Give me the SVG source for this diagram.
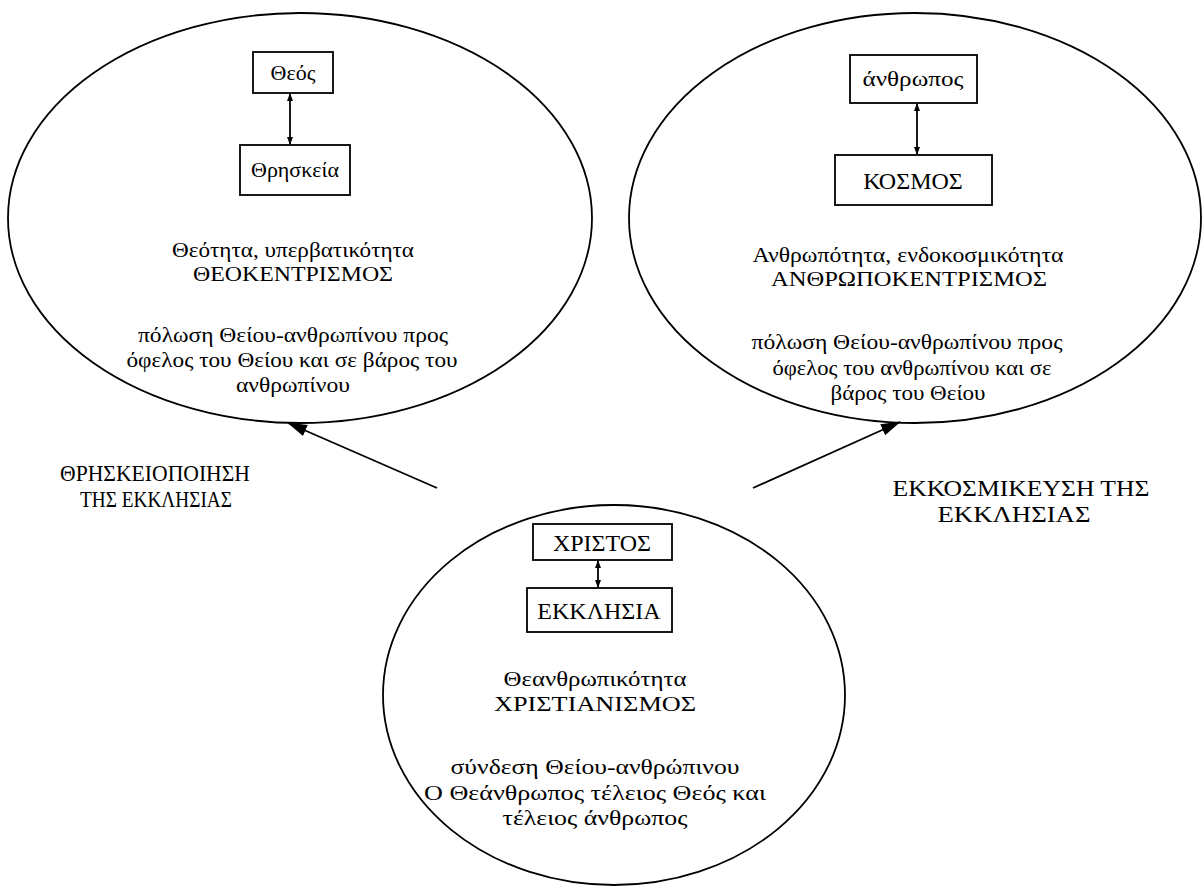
<svg xmlns="http://www.w3.org/2000/svg" width="1204" height="895" viewBox="0 0 1204 895">
<style>
.e{fill:none;stroke:#000;stroke-width:1.8}
.b{fill:#fff;stroke:#000;stroke-width:1.8}
.u{font-family:"Liberation Serif","Times New Roman",serif;font-size:22px;fill:#000;text-anchor:middle}
.k{font-family:"Liberation Serif","Times New Roman",serif;font-size:24px;fill:#000;text-anchor:middle}
.c{stroke:#000;stroke-width:1.8;fill:none}
.l{font-family:"Liberation Serif","Times New Roman",serif;font-size:24px;fill:#000;text-anchor:middle}
</style>
<defs>
<marker id="as" markerWidth="8" markerHeight="8" refX="7" refY="4" orient="auto-start-reverse" markerUnits="userSpaceOnUse" viewBox="0 0 8 8"><path d="M0,1 L8,4 L0,7 z" fill="#000"/></marker>
<marker id="big" markerWidth="20" markerHeight="14" refX="19" refY="7" orient="auto" markerUnits="userSpaceOnUse" viewBox="0 0 20 14"><path d="M0,1 L20,7 L0,13 z" fill="#000"/></marker>
</defs>
<g id="left">
<ellipse class="e" cx="300" cy="218" rx="292" ry="205"/>
<rect class="b" x="253" y="52" width="80" height="41"/>
<text class="u" x="293" y="80">Θεός</text>
<rect class="b" x="240" y="145" width="110" height="50"/>
<text class="u" x="295" y="177">Θρησκεία</text>
<text class="u" x="293" y="257" textLength="242" lengthAdjust="spacingAndGlyphs">Θεότητα, υπερβατικότητα</text>
<text class="u" x="293" y="281" textLength="200" lengthAdjust="spacingAndGlyphs">ΘΕΟΚΕΝΤΡΙΣΜΟΣ</text>
<text class="u" x="293" y="342" textLength="310" lengthAdjust="spacingAndGlyphs">πόλωση Θείου-ανθρωπίνου προς</text>
<text class="u" x="292" y="367" textLength="331" lengthAdjust="spacingAndGlyphs">όφελος του Θείου και σε βάρος του</text>
<text class="u" x="293" y="392" textLength="114" lengthAdjust="spacingAndGlyphs">ανθρωπίνου</text>
</g>
<g id="right">
<ellipse class="e" cx="915" cy="218" rx="286" ry="205"/>
<rect class="b" x="850" y="55" width="127" height="48"/>
<text class="u" x="913" y="86" textLength="101" lengthAdjust="spacingAndGlyphs">άνθρωπος</text>
<rect class="b" x="835" y="155" width="157" height="50"/>
<text class="k" x="913" y="189">ΚΟΣΜΟΣ</text>
<text class="u" x="908" y="262" textLength="311" lengthAdjust="spacingAndGlyphs">Ανθρωπότητα, ενδοκοσμικότητα</text>
<text class="u" x="909" y="286" textLength="276" lengthAdjust="spacingAndGlyphs">ΑΝΘΡΩΠΟΚΕΝΤΡΙΣΜΟΣ</text>
<text class="u" x="907" y="349" textLength="311" lengthAdjust="spacingAndGlyphs">πόλωση Θείου-ανθρωπίνου προς</text>
<text class="u" x="912" y="375" textLength="279" lengthAdjust="spacingAndGlyphs">όφελος του ανθρωπίνου και σε</text>
<text class="u" x="908" y="400" textLength="155" lengthAdjust="spacingAndGlyphs">βάρος του Θείου</text>
</g>
<g id="bottom">
<ellipse class="e" cx="614" cy="695" rx="231" ry="190"/>
<rect class="b" x="533" y="524" width="139" height="36"/>
<text class="k" x="602" y="551">ΧΡΙΣΤΟΣ</text>
<rect class="b" x="527" y="588" width="145" height="44"/>
<text class="k" x="599" y="619">ΕΚΚΛΗΣΙΑ</text>
<text class="u" x="595" y="686" textLength="183" lengthAdjust="spacingAndGlyphs">Θεανθρωπικότητα</text>
<text class="u" x="595" y="711" textLength="202" lengthAdjust="spacingAndGlyphs">ΧΡΙΣΤΙΑΝΙΣΜΟΣ</text>
<text class="u" x="595" y="774" textLength="289" lengthAdjust="spacingAndGlyphs">σύνδεση Θείου-ανθρώπινου</text>
<text class="u" x="595" y="800" textLength="342" lengthAdjust="spacingAndGlyphs">Ο Θεάνθρωπος τέλειος Θεός και</text>
<text class="u" x="595" y="825" textLength="185" lengthAdjust="spacingAndGlyphs">τέλειος άνθρωπος</text>
</g>
<g id="labels">
<text class="l" x="155" y="481" textLength="190" lengthAdjust="spacingAndGlyphs">ΘΡΗΣΚΕΙΟΠΟΙΗΣΗ</text>
<text class="l" x="156" y="507" textLength="152" lengthAdjust="spacingAndGlyphs">ΤΗΣ ΕΚΚΛΗΣΙΑΣ</text>
<text class="l" x="1021" y="496" textLength="257" lengthAdjust="spacingAndGlyphs">ΕΚΚΟΣΜΙΚΕΥΣΗ ΤΗΣ</text>
<text class="l" x="1014" y="522" textLength="153" lengthAdjust="spacingAndGlyphs">ΕΚΚΛΗΣΙΑΣ</text>
</g>
<g id="connectors">
<line class="c" x1="290" y1="94" x2="290" y2="144" marker-start="url(#as)" marker-end="url(#as)"/>
<line class="c" x1="917" y1="104" x2="917" y2="154" marker-start="url(#as)" marker-end="url(#as)"/>
<line class="c" x1="598" y1="561" x2="598" y2="587" marker-start="url(#as)" marker-end="url(#as)"/>
<line class="c" x1="437" y1="488" x2="288" y2="423" marker-end="url(#big)"/>
<line class="c" x1="753" y1="488" x2="900" y2="422" marker-end="url(#big)"/>
</g>
</svg>
